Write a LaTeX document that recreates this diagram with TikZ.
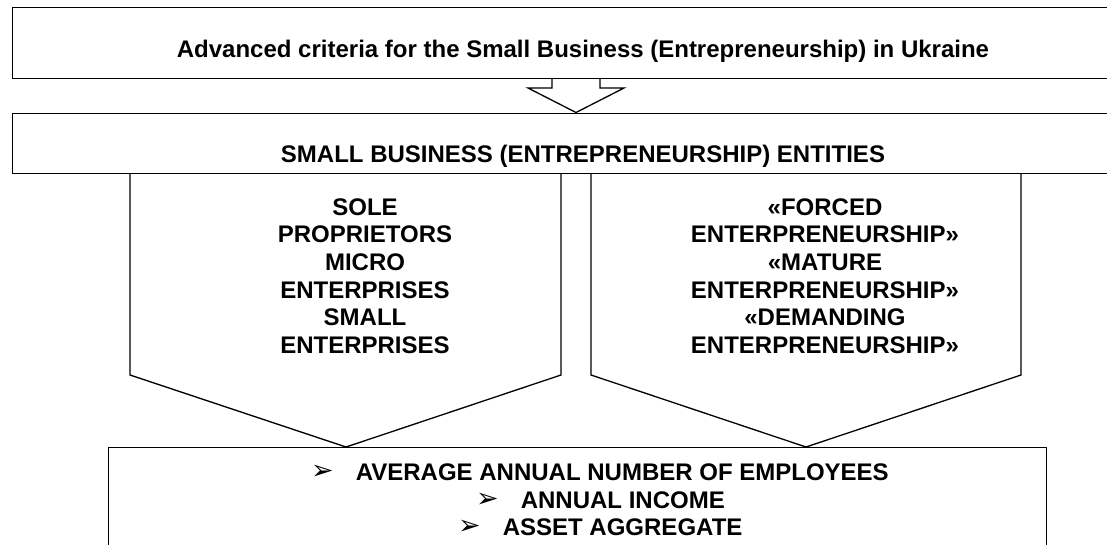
\documentclass[tikz,border=0pt]{standalone}
\usepackage{fontspec}
\setmainfont{Liberation Sans}
\newfontfamily\dejavu{DejaVu Sans}
\usetikzlibrary{calc}
\begin{document}
\begin{tikzpicture}[x=1pt,y=-1pt,
  outline/.style={draw=black,line width=1.4pt,line join=miter},
  boxnode/.style={outline,fill=white,rectangle,inner sep=0pt,anchor=north west},
  txt/.style={font=\fontsize{24}{27.6}\selectfont\bfseries,inner sep=0pt},
  blocktxt/.style={txt,align=center},
]
\newcommand{\critbullet}{\raisebox{1pt}{\dejavu\fontsize{27}{27}\selectfont ➢}\hspace{22pt}}
\useasboundingbox (0,0) rectangle (1107,544);
\clip (0,0) rectangle (1107,544);
\fill[white] (0,0) rectangle (1107,544);

% top box
\node[boxnode,minimum width=1142pt,minimum height=71pt] (top) at (12,7) {};
\node[txt,anchor=base] (toptext) at (583,57.3) {Advanced criteria for the Small Business (Entrepreneurship) in Ukraine};

% second box
\node[boxnode,minimum width=1142pt,minimum height=60pt] (sbe) at (12,113) {};
\node[txt,anchor=base] (sbetext) at (583,162.3) {SMALL BUSINESS (ENTREPRENEURSHIP) ENTITIES};

% block arrow between the two boxes
\coordinate (arrTop) at (576,78);
\coordinate (arrTip) at (576,112.5);
\draw[outline,line width=1.3pt] ($(arrTop)+(-24,0)$) -- ++(0,10) -- ++(-24,0) -- (arrTip) -- ($(arrTop)+(48,10)$) -- ++(-24,0) -- ++(0,-10);

% left pentagon
\coordinate (lp1) at (130,173);
\coordinate (lp2) at (130,375);
\coordinate (ltip) at (346,447);
\coordinate (lp4) at (561,375);
\coordinate (lp5) at (561,173);
\draw[outline,line width=1.3pt] (lp1) -- (lp2) -- (ltip) -- (lp4) -- (lp5);
\node[blocktxt] (lefttext) at (365,276) {SOLE\\PROPRIETORS\\MICRO\\ENTERPRISES\\SMALL\\ENTERPRISES};

% right pentagon
\coordinate (rp1) at (591,173);
\coordinate (rp2) at (591,375);
\coordinate (rtip) at (806,447);
\coordinate (rp4) at (1021,375);
\coordinate (rp5) at (1021,173);
\draw[outline,line width=1.3pt] (rp1) -- (rp2) -- (rtip) -- (rp4) -- (rp5);
\node[blocktxt] (righttext) at (825,276) {«FORCED\\ENTERPRENEURSHIP»\\«MATURE\\ENTERPRENEURSHIP»\\«DEMANDING\\ENTERPRENEURSHIP»};

% bottom box
\node[boxnode,minimum width=938pt,minimum height=130pt,line width=1.3pt] (crit) at (108,447) {};
\node[txt,anchor=base west] (c1) at (311,480) {\critbullet AVERAGE ANNUAL NUMBER OF EMPLOYEES};
\node[txt,anchor=base west] (c2) at (476,508.3) {\critbullet ANNUAL INCOME};
\node[txt,anchor=base west] (c3) at (458,535) {\critbullet ASSET AGGREGATE};
\end{tikzpicture}
\end{document}
